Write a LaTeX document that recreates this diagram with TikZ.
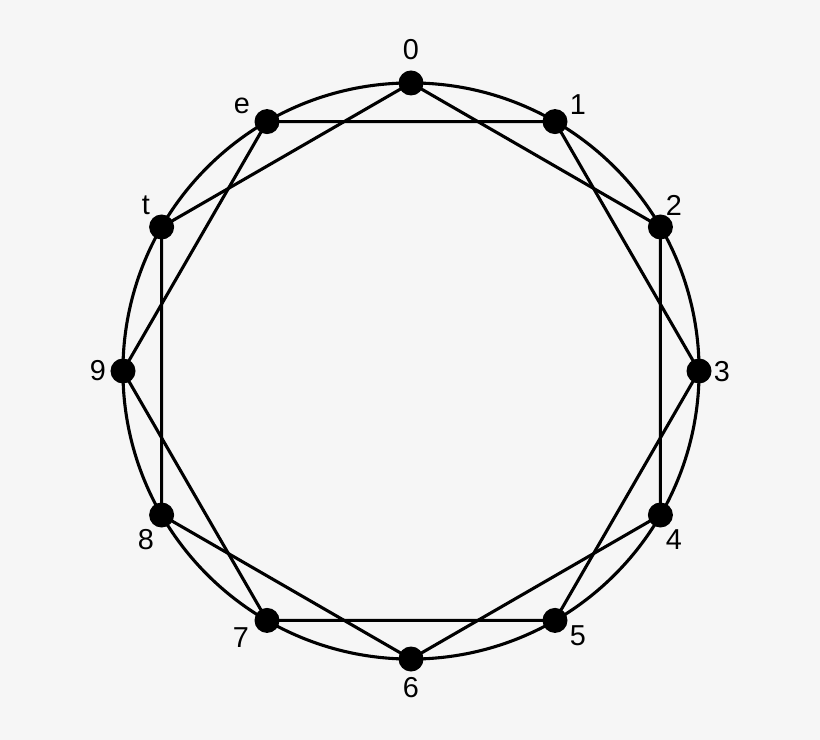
\documentclass[tikz,border=0pt]{standalone}
\usepackage{fontspec}
\setmainfont{Liberation Sans}
\usetikzlibrary{calc}
\definecolor{paper}{RGB}{246,246,246}
\tikzset{
	dot/.style={circle, fill=black, inner sep=0pt, minimum size=0.625cm},
	num/.style={font=\fontsize{20.5}{24}\selectfont, inner sep=0pt},
	edge/.style={line width=2.2pt}
}

\begin{document}
\begin{tikzpicture}[x=0.025cm, y=-0.025cm]
		%%%%% START %%%%%
		
		\fill[paper] (0, 0) rectangle (820, 740);
		\useasboundingbox (0, 0) rectangle (820, 740);
		
		\coordinate (c) at (411, 371);
		\draw[edge] (c) circle[radius=7.2cm];
		
		\node[dot] (n0) at (411, 83) {};
		\node[dot] (n1) at (555, 121.6) {};
		\node[dot] (n2) at (660.4, 227) {};
		\node[dot] (n3) at (699, 371) {};
		\node[dot] (n4) at (660.4, 515) {};
		\node[dot] (n5) at (555, 620.4) {};
		\node[dot] (n6) at (411, 659) {};
		\node[dot] (n7) at (267, 620.4) {};
		\node[dot] (n8) at (161.6, 515) {};
		\node[dot] (n9) at (123, 371) {};
		\node[dot] (nt) at (161.6, 227) {};
		\node[dot] (ne) at (267, 121.6) {};
		
		\node[num] at (411, 50) {0};
		\node[num] at (578, 105) {1};
		\node[num] at (674, 205) {2};
		\node[num] at (722, 372) {3};
		\node[num] at (674, 540) {4};
		\node[num] at (578, 636) {5};
		\node[num] at (411, 688) {6};
		\node[num] at (241, 638) {7};
		\node[num] at (146, 540) {8};
		\node[num] at (98, 371) {9};
		\node[num] at (146, 205) {t};
		\node[num] at (242, 106) {e};
		
		\draw[edge] (n0.center) -- (n2.center) -- (n4.center) -- (n6.center) -- (n8.center) -- (nt.center) -- cycle;
		\draw[edge] (n1.center) -- (n3.center) -- (n5.center) -- (n7.center) -- (n9.center) -- (ne.center) -- cycle;
		
		%%%%% END %%%%%
	\end{tikzpicture}
\end{document}
